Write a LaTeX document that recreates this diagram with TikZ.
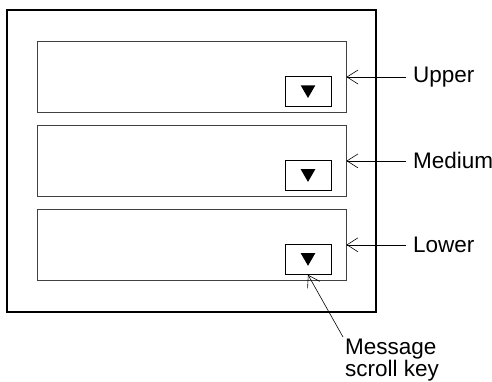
\documentclass[tikz,border=0pt]{standalone}
\usepackage{fontspec}
\setmainfont{Liberation Sans}
\usetikzlibrary{positioning,shapes.geometric,arrows.meta}
\tikzset{
  frame/.style={draw,line width=1.3pt,minimum width=369pt,minimum height=302pt,inner sep=0pt},
  panel/.style={draw=black!75,line width=0.9pt,minimum width=309pt,minimum height=71pt,inner sep=0pt},
  scrollkey/.style={draw,line width=0.9pt,minimum width=46pt,minimum height=30pt,inner sep=0pt},
  tri/.style={regular polygon,regular polygon sides=3,shape border rotate=180,
              fill=black,minimum size=17pt,inner sep=0pt,yshift=2pt},
  lbl/.style={font=\fontsize{22.5}{22}\selectfont},
  flow/.style={-{Straight Barb[length=11pt,width=14pt]},line width=0.6pt}
}
\begin{document}
\begin{tikzpicture}[x=1pt,y=-1pt]
    \useasboundingbox (0,0) rectangle (492,381);
    \node[frame] (box) at (191.5,161) {};

    \node[panel] (upper) at (191.5,77) {};
    \node[panel,below=12pt of upper] (medium) {};
    \node[panel,below=12pt of medium] (lower) {};

    \node[scrollkey,above left=6pt and 15pt of upper.south east] (ukey) {};
    \node[scrollkey,above left=6pt and 15pt of medium.south east] (mkey) {};
    \node[scrollkey,above left=6pt and 15pt of lower.south east] (lkey) {};
    \node[tri] (utri) at (ukey) {};
    \node[tri] (mtri) at (mkey) {};
    \node[tri] (ltri) at (lkey) {};

    \node[lbl,right=60pt of upper,inner xsep=6.5pt] (uplbl) {Upper};
    \node[lbl,right=60pt of medium,inner xsep=6.5pt] (medlbl) {Medium};
    \node[lbl,right=60pt of lower,inner xsep=6.5pt] (lowlbl) {Lower};
    \path (uplbl) edge[flow] (upper);
    \path (medlbl) edge[flow] (medium);
    \path (lowlbl) edge[flow] (lower);

    \node[lbl,align=left,anchor=north west,inner sep=2pt] (msg) at (343,337) {Message\\scroll key};
    \draw[flow] (msg.north west) -- (lkey.south);
  \end{tikzpicture}
\end{document}
